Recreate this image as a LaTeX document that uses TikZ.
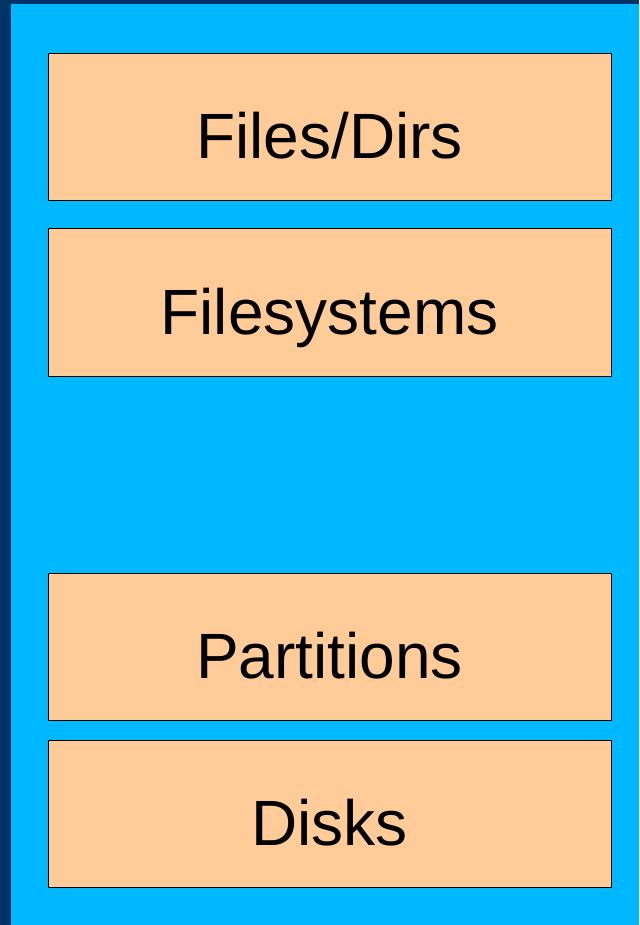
\documentclass[tikz,border=0pt]{standalone}
\usepackage{fontspec}
\setmainfont{Liberation Sans}
\definecolor{navy}{HTML}{003366}
\definecolor{sky}{HTML}{00B8FF}
\definecolor{peach}{HTML}{FFCC99}
\begin{document}
\begin{tikzpicture}[x=1pt,y=-1pt,
  layer/.style={draw=black,line width=1pt,fill=peach,minimum width=563pt,minimum height=147pt,
    inner sep=0pt,text height=63pt,text depth=0pt,font=\fontsize{64}{70}\selectfont}]
  % frame
  \fill[navy] (0,0) rectangle (639,925);
  \fill[sky] (11,4) rectangle (639,925);
  \useasboundingbox (0,0) rectangle (639,925);
  % storage layers
  \node[layer] (files) at (329.5,127.5) {Files/Dirs};
  \node[layer] (fs) at (329.5,302.5) {Filesystems};
  \node[layer] (parts) at (329.5,646.5) {Partitions};
  \node[layer] (disks) at (329.5,813.5) {Disks};
\end{tikzpicture}
\end{document}
